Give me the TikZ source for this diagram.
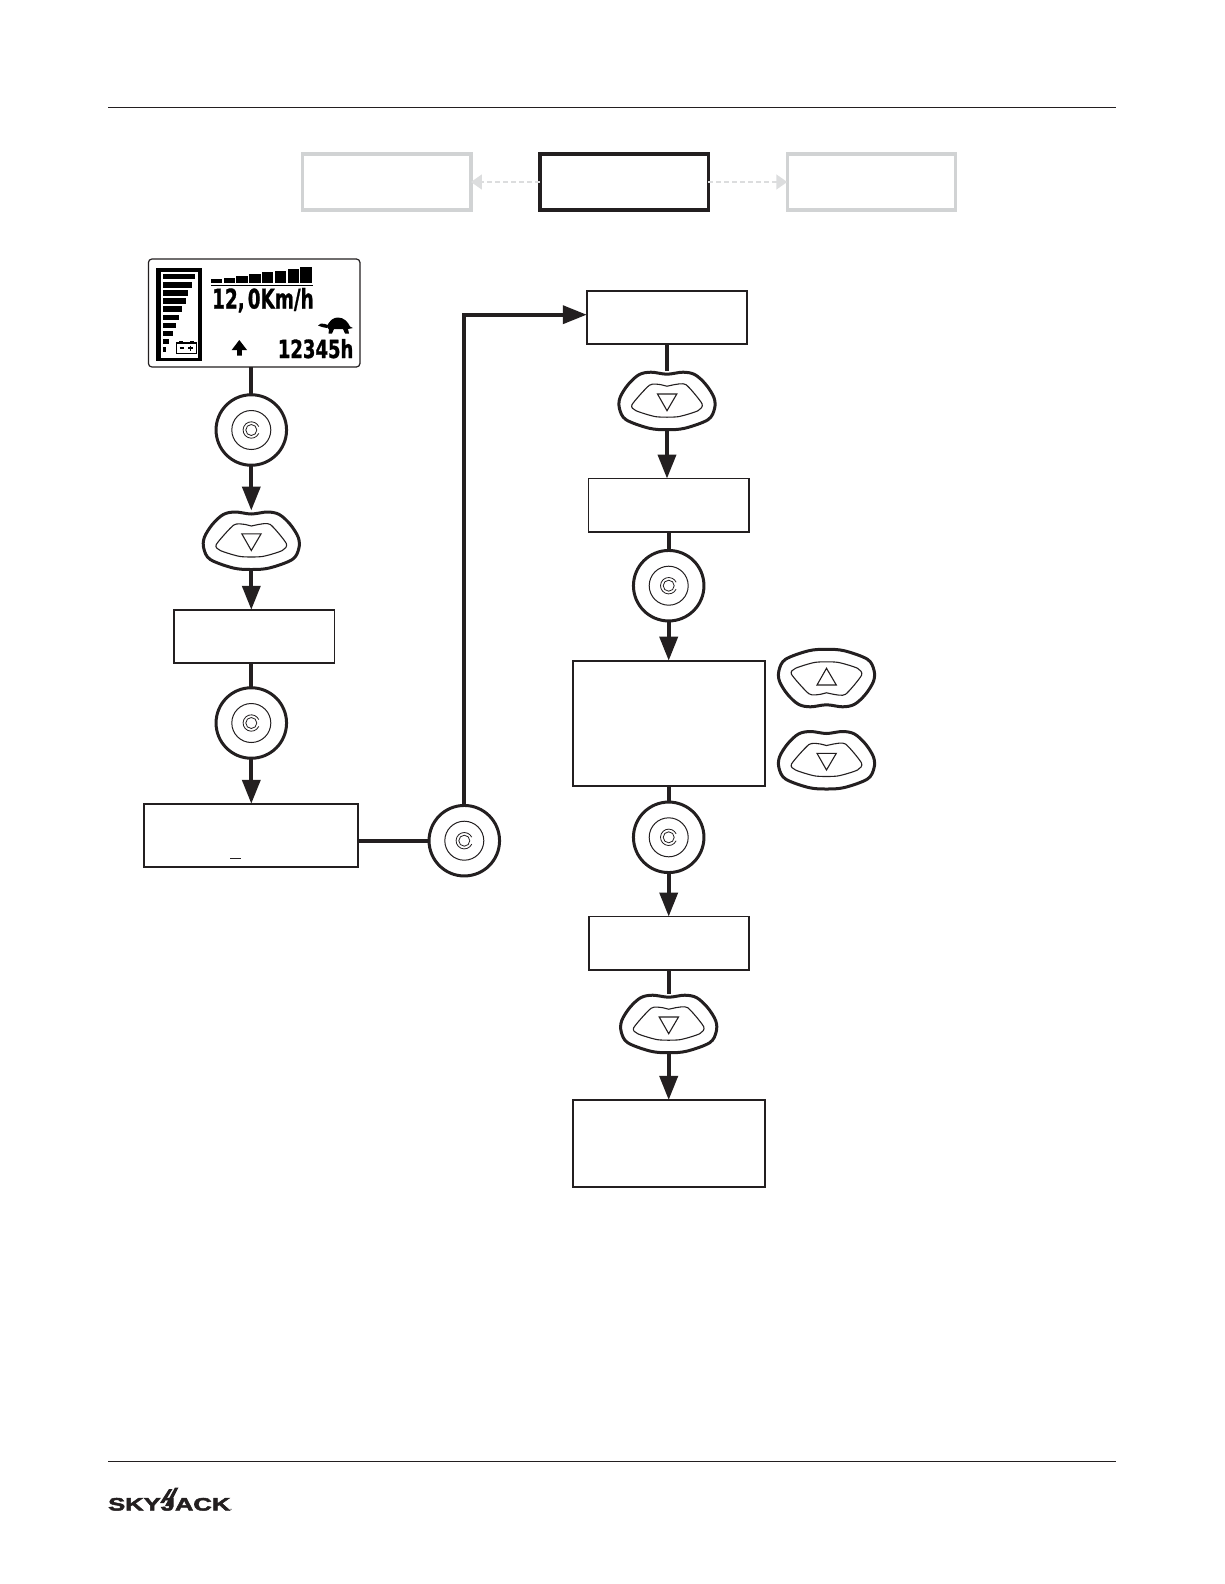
\documentclass[tikz,border=0pt]{standalone}
\usepackage{fontspec}
\usepackage{graphicx}
\usetikzlibrary{arrows.meta}
\newfontfamily\lcdfont{DejaVu Sans Bold}[FakeBold=1.2]
\newfontfamily\logofont{Liberation Sans Bold}[FakeBold=2.5]
\definecolor{ink}{HTML}{231F20}
\definecolor{pale}{HTML}{D1D3D4}
\definecolor{palearrow}{HTML}{DCDDDE}
\tikzset{
  flowbox/.style={draw=ink,line width=1.8pt,fill=white,outer sep=0pt,inner sep=0pt},
  topbox/.style={fill=white,outer sep=0pt,inner sep=0pt,minimum width=168.5pt,minimum height=56pt},
  ctrlnode/.style={circle,draw=ink,line width=3pt,fill=white,outer sep=0pt,inner sep=0pt,minimum size=70.5pt},
  keynode/.style={rectangle,inner sep=0pt,outer sep=0pt,minimum width=97pt,minimum height=60pt},
  conn/.style={draw=ink,line width=3.8pt},
  connarrow/.style={conn,-{Triangle[length=24pt,width=18pt]}},
  palearrowline/.style={draw=palearrow,line width=1.7pt,dash pattern=on 5pt off 3pt,-{Triangle[length=11pt,width=15pt,fill=palearrow]}},
  rule/.style={draw=ink,line width=1.1pt}
}
\newcommand{\ctrlbtn}[3]{%
  \node[ctrlnode] (#1) at (#2,#3) {};
  \draw[ink,line width=1pt] (#1.center) circle (19.5);
  \draw[ink,line width=.8pt] (#1.center) circle (5.5);
  \draw[ink,line width=.8pt] ([shift={(25:8.2)}]#1.center) arc[start angle=25,end angle=335,radius=8.2];
}
\newcommand{\keybtn}[4]{%
  \node[keynode] (#1) at (#2,#3) {};
  \begin{scope}[shift={(#2,#3)},yscale=#4]
    \draw[ink,line width=3pt,fill=white] plot[smooth cycle,tension=.55] coordinates {(0,-26.5) (-16,-28.5) (-28,-26) (-39,-16) (-47,-3) (-47.5,8) (-41,19) (-18,27.5) (0,29) (18,27.5) (41,19) (47.5,8) (47,-3) (39,-16) (28,-26) (16,-28.5)};
    \draw[ink,line width=1.1pt] plot[smooth cycle,tension=.4] coordinates {(0,-14.5) (-6,-16) (-17.5,-15.5) (-35,4) (-31,10) (-11,16) (11,16) (31,10) (35,3) (19,-16) (7,-16)};
    \draw[ink,line width=1.1pt,line join=miter] (-9.5,-6.7) -- (9.8,-6.7) -- (0,10) -- cycle;
  \end{scope}
}
\begin{document}
\begin{tikzpicture}[x=1pt,y=-1pt]
\useasboundingbox (0,0) rectangle (1224,1584);

% page rules
\coordinate (ruleTopL) at (108,107.5);
\coordinate (ruleTopR) at (1116,107.5);
\coordinate (ruleBotL) at (108,1461.5);
\coordinate (ruleBotR) at (1116,1461.5);
\draw[rule] (ruleTopL) -- (ruleTopR);
\draw[rule] (ruleBotL) -- (ruleBotR);

% top navigation boxes
\node[topbox,draw=pale,line width=3.3pt] (navL) at (386.7,182) {};
\node[topbox,draw=ink,line width=3.5pt] (navM) at (624,182) {};
\node[topbox,draw=pale,line width=3.3pt] (navR) at (871.5,182) {};
\draw[palearrowline] (navM.west) -- (navL.east);
\draw[palearrowline] (navM.east) -- (navR.west);

% flow nodes, left column
\node[draw=ink,line width=1.2pt,rounded corners=3.5pt,fill=white,outer sep=0pt,minimum width=211.5pt,minimum height=108pt] (lcd) at (254.2,313) {};
\ctrlbtn{cA}{251.3}{430}
\keybtn{kA}{251.3}{540.5}{1}
\node[flowbox,minimum width=160.5pt,minimum height=53.5pt] (boxA) at (254.3,636.5) {};
\ctrlbtn{cB}{251.3}{723}
\node[flowbox,minimum width=214pt,minimum height=63.5pt] (boxB) at (251.3,835.5) {};
\ctrlbtn{cC}{464.3}{840.7}

% flow nodes, right column
\node[flowbox,minimum width=160.5pt,minimum height=53.5pt] (boxC) at (667,317.5) {};
\keybtn{kB}{667}{400.7}{1}
\node[flowbox,minimum width=160.5pt,minimum height=53.5pt] (boxD) at (668.8,505.3) {};
\ctrlbtn{cD}{668.7}{585.7}
\node[flowbox,minimum width=192.5pt,minimum height=125.3pt] (boxE) at (669,723.3) {};
\keybtn{kUp}{826.5}{678.3}{-1}
\keybtn{kDown}{826.5}{760}{1}
\ctrlbtn{cE}{668.7}{837.3}
\node[flowbox,minimum width=160.5pt,minimum height=53.5pt] (boxF) at (669,943.3) {};
\keybtn{kC}{668.7}{1023.7}{1}
\node[flowbox,minimum width=192.5pt,minimum height=86.7pt] (boxG) at (669,1143.3) {};

% connectors
\draw[conn] (cA.north |- lcd.south) -- (cA.north);
\draw[connarrow] (cA.south) -- (kA.north);
\draw[connarrow] (kA.south) -- (kA.south |- boxA.north);
\draw[conn] (cB.north |- boxA.south) -- (cB.north);
\draw[connarrow] (cB.south) -- (cB.south |- boxB.north);
\draw[conn] (boxB.east |- cC.west) -- (cC.west);
\coordinate (entryC) at ([yshift=2.8pt]boxC.west);
\draw[connarrow] (cC.north) -- (cC.north |- entryC) -- (entryC);
\draw[conn] (kB.north |- boxC.south) -- (kB.north);
\draw[connarrow] (kB.south) -- (kB.south |- boxD.north);
\draw[conn] (cD.north |- boxD.south) -- (cD.north);
\draw[connarrow] (cD.south) -- (cD.south |- boxE.north);
\draw[conn] (cE.north |- boxE.south) -- (cE.north);
\draw[connarrow] (cE.south) -- (cE.south |- boxF.north);
\draw[conn] (kC.north |- boxF.south) -- (kC.north);
\draw[connarrow] (kC.south) -- (kC.south |- boxG.north);

% small underscore in the third box
\draw[ink,line width=1pt] (230,858) -- (241,858);

% LCD: battery column
\fill[black] (156,267.7) rectangle (201.7,361);
\fill[white] (160.8,271.7) rectangle (198.4,358);
\foreach \i/\r in {0/195,1/191.7,2/188.3,3/185.7,4/182.3,5/179,6/175.7,7/172.7,8/169,9/166}{
  \fill[black] (163,{276.7+8.1*\i-2.7}) rectangle (\r,{276.7+8.1*\i+2.7});
}
\draw[black,line width=1.2pt] (176.5,343) rectangle (196.3,353.5);
\fill[black] (179,341) rectangle (183,343);
\fill[black] (190,341) rectangle (194,343);
\draw[black,line width=1.1pt] (179.5,348) -- (184,348);
\draw[black,line width=1.1pt] (188,348) -- (193,348) (190.5,345.5) -- (190.5,350.5);

% LCD: level bars
\foreach \i in {0,...,7}{
  \fill[black] ({210.7+12.8*\i},283.3) rectangle ({222.2+12.8*\i},{279.3-1.72*\i});
}
\fill[black] (210.7,284.8) rectangle (312.7,286.2);

% LCD: readouts
\node[inner sep=0pt,anchor=base west,text=black] (speed) at (212,308.5) {\scalebox{.68}[1]{\lcdfont\fontsize{27}{27}\selectfont 12,\,0Km/h}};
\node[inner sep=0pt,anchor=base east,text=black] (hours) at (353.5,358) {\scalebox{.72}[1]{\lcdfont\fontsize{25}{25}\selectfont 12345h}};

% LCD: up arrow
\fill[black] (239.3,340) -- (247,350) -- (241.8,350) -- (241.8,355.5) -- (237,355.5) -- (237,350) -- (231.7,350) -- cycle;

% LCD: turtle
\fill[black] (327,327) .. controls (329,320) and (334,317.5) .. (338,317.5) .. controls (344,317.5) and (348,322) .. (350,326.5) -- (353,328) -- (348,329) -- (349,333.5) -- (345,333.5) -- (343,329) -- (334,329) -- (332,333.5) -- (328.5,333.5) -- (329,329.5) -- cycle;
\fill[black] (318,325.5) -- (321,323.5) -- (325,324) -- (328,325) -- (327,328) -- (322,327) -- cycle;

% logo
\node[inner sep=0pt,anchor=base west,text=ink] (logo) at (108,1510.5) {\scalebox{1.42}[1]{\logofont\fontsize{18}{18}\selectfont SKYJACK}};
\fill[ink] (160,1503) -- (169,1489) -- (172.5,1489) -- (164,1503) -- cycle;
\fill[ink] (165,1506) -- (175,1487.5) -- (178.5,1487.5) -- (169,1506) -- cycle;
\fill[ink] (231,1509.2) circle (.6);
\end{tikzpicture}
\end{document}
